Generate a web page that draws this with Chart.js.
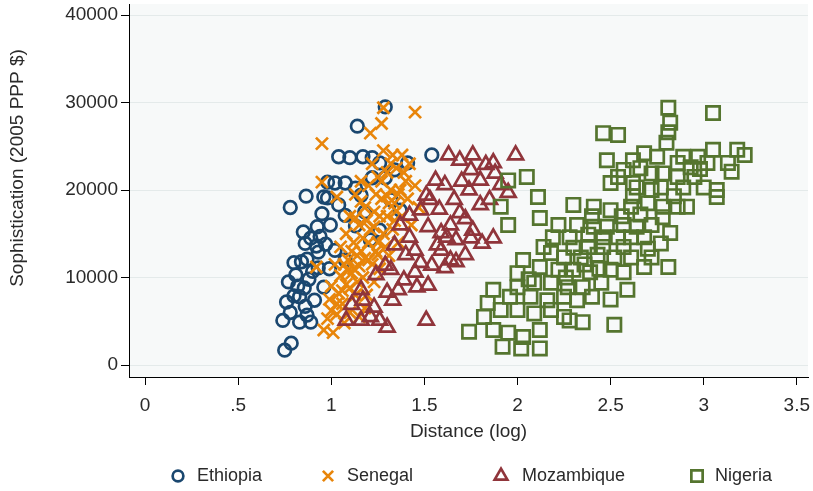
<!DOCTYPE html>
<html>
<head>
<meta charset="utf-8">
<script src="https://cdn.jsdelivr.net/npm/chart.js@4"></script>
<style>
  html, body { margin: 0; padding: 0; background: #fff; }
  #wrap { width: 813px; height: 491px; }
</style>
</head>
<body>
<div id="wrap"><canvas id="chart" width="813" height="491"></canvas></div>
<script>
"use strict";

// ---------------- DATA ----------------
const seriesNames = ["Ethiopia", "Senegal", "Mozambique", "Nigeria"];
const xTicks = [0, 0.5, 1, 1.5, 2, 2.5, 3, 3.5];
const xTickLabels = ["0", ".5", "1", "1.5", "2", "2.5", "3", "3.5"];
const yTicks = [0, 10000, 20000, 30000, 40000];

// [distance (log), sophistication]
const ethiopia = [
  [0.75,1700],[0.785,2500],[0.74,5100],[0.78,6000],[0.76,7200],[0.80,7900],[0.77,9500],
  [0.81,10300],[0.80,11700],[0.84,11800],[0.78,18000],[0.865,19300],[0.87,12100],[0.86,13900],
  [0.89,14500],[0.925,15800],[0.94,14700],[0.95,17300],[0.98,19100],[1.02,20800],[1.075,20800],
  [1.13,20200],[1.14,27300],[1.29,29500],[1.04,23800],[1.10,23700],[1.17,23800],[1.22,23700],
  [1.26,23100],[1.54,24000],[1.41,23100],[0.96,8900],[0.91,7400],[0.87,5700],[0.83,4900],
  [0.89,4900],[0.83,7800],[0.855,8800],[0.90,10700],[0.93,12900],[0.97,13800],[0.995,16000],
  [1.04,18300],[1.075,17100],[1.16,19400],[1.22,21400],[1.29,21400],[1.34,22300],[1.18,17500],
  [1.13,15900],[1.075,12000],[1.02,13100],[1.21,14300],[1.26,15400],[1.32,18900],[1.37,17700],
  [0.93,11100],[0.85,15200],[0.96,19200],[0.98,20900],[0.82,9000],[0.88,9800],[0.92,13600],
  [0.86,6700],[0.99,11000]
];
const senegal = [
  [0.92,11200],[0.95,25300],[0.95,20900],[1.03,19200],[0.96,4000],[0.98,5300],[0.99,7500],
  [1.0,9000],[1.0,6200],[1.01,3700],[1.02,11500],[1.03,5800],[1.04,8200],[1.05,10200],
  [1.05,13500],[1.06,7000],[1.07,4800],[1.08,9200],[1.08,15000],[1.09,12000],[1.1,6000],
  [1.1,17000],[1.11,10500],[1.12,14000],[1.13,8000],[1.13,19500],[1.14,12500],[1.15,16000],
  [1.15,5500],[1.16,21000],[1.17,10000],[1.17,14500],[1.18,18000],[1.18,6500],[1.19,8000],
  [1.2,12000],[1.2,20500],[1.21,15500],[1.21,26500],[1.22,23000],[1.23,9500],[1.23,17500],
  [1.24,13000],[1.25,21500],[1.26,11000],[1.27,27600],[1.27,19000],[1.28,15000],[1.28,24500],
  [1.28,29400],[1.3,22000],[1.3,17000],[1.31,12500],[1.32,20000],[1.33,24000],[1.33,15500],
  [1.34,18500],[1.35,22500],[1.36,14000],[1.37,20000],[1.38,17000],[1.38,24000],[1.4,21000],
  [1.41,19000],[1.42,23000],[1.43,16000],[1.45,28900],[1.45,20500],[1.47,18000],
  [1.12,11000],[1.14,9500],[1.16,13000],[1.19,16500],[1.22,11500],[1.24,19500],[1.25,14000],
  [1.26,17000],[1.29,13500],[1.31,18500],[1.32,23000],[1.34,16500],[1.36,19500],[1.39,22000],
  [1.06,8500],[1.09,10800],[1.11,13000],[1.13,16800],[1.16,18700],[1.2,14000],[1.03,7000],
  [1.07,11500],[1.18,12200],[1.23,15800],[1.27,21000],[1.3,19300],[1.35,17600],[1.15,11300],
  [1.1,8800],[1.25,12600]
];
const mozambique = [
  [1.63,24000],[1.76,24000],[1.87,23100],[1.99,24000],[1.75,22300],[1.88,21900],[1.61,20600],
  [1.74,20000],[1.80,21100],[1.95,19700],[1.66,18900],[1.80,18300],[1.69,17400],[1.64,16000],
  [1.76,15400],[1.67,14300],[1.75,14500],[1.81,13900],[1.87,14500],[1.64,12000],[1.52,15800],
  [1.59,15100],[1.57,13700],[1.48,11700],[1.42,14600],[1.39,9700],[1.46,8900],[1.52,9100],
  [1.30,8300],[1.23,6600],[1.33,7400],[1.17,7400],[1.16,5100],[1.21,5500],[1.26,5100],
  [1.30,4300],[1.51,5100],[1.08,5100],[1.11,6900],[1.36,8600],[1.45,10600],[1.54,11400],
  [1.61,11100],[1.67,11800],[1.53,18900],[1.48,17700],[1.42,17100],[1.37,16000],[1.34,13700],
  [1.40,12600],[1.29,11400],[1.24,10300],[1.56,21100],[1.51,19400],[1.69,23400],[1.83,22900],
  [1.91,20600],[1.85,18900],[1.72,12600],[1.59,13100],[1.45,13100],[1.32,10900],[1.16,8600],
  [1.70,21000],[1.58,17800],[1.72,16700],[1.62,14600]
];
const nigeria = [
  [2.81,29400],[3.05,28800],[2.82,27700],[2.46,26500],[2.54,26300],[2.81,26600],[2.80,25400],
  [3.22,24000],[3.18,24600],[3.05,24600],[3.13,23100],[3.15,22100],[2.48,23400],[2.62,23400],
  [2.68,24200],[2.75,23800],[2.89,23800],[2.97,23800],[2.86,23100],[3.02,23100],[2.54,21500],
  [2.72,21900],[2.78,21900],[2.95,21500],[2.86,21500],[2.50,20800],[2.62,20800],[3.00,20300],
  [3.07,20000],[3.07,19200],[2.77,20300],[2.89,20300],[1.95,21100],[2.05,21500],[2.11,19200],
  [1.91,18100],[1.95,16000],[2.30,18300],[2.41,18100],[2.50,17700],[2.61,18100],[2.70,18500],
  [2.78,18100],[2.86,18100],[2.91,18100],[2.12,16800],[2.22,16000],[2.32,16000],[2.41,15800],
  [2.48,15800],[2.57,16000],[2.64,15800],[2.72,16000],[2.78,16900],[2.82,15100],[2.19,14600],
  [2.28,14600],[2.38,14900],[2.46,14600],[2.54,14600],[2.61,14600],[2.68,14600],[2.77,13900],
  [2.38,13500],[2.46,13500],[2.57,13500],[2.18,12800],[2.25,12300],[2.34,12300],[2.43,12600],
  [2.52,12300],[2.61,12300],[2.72,12300],[2.81,11200],[2.68,11200],[2.03,12000],[2.12,11200],
  [2.22,10900],[2.30,10900],[2.39,10600],[2.50,10900],[2.57,10600],[2.00,10500],[2.00,8900],
  [2.09,9400],[2.18,9400],[2.27,8900],[2.35,8900],[2.45,9400],[2.59,8600],[1.87,8600],
  [1.96,7800],[2.07,7800],[2.16,7400],[2.25,7800],[2.32,7400],[1.82,5500],[1.91,6300],
  [2.00,6300],[2.09,5900],[2.18,6300],[2.25,5500],[2.35,4900],[2.52,4600],[1.74,3800],
  [1.87,4000],[1.95,3700],[2.03,3200],[2.12,4000],[1.92,2100],[2.02,1900],[2.12,1900],
  [2.28,5100],[1.84,7100],[2.72,20000],[2.64,20300],
  [2.40,17000],[2.56,17000],[2.66,17200],[2.36,11500],[2.44,11000],[2.62,19300],[2.93,22600],
  [2.57,22300],[2.70,13300],[2.14,13500],[2.06,9800],[2.26,10000],[2.40,7800],[2.50,7500],
  [2.84,19300],[2.98,22400],[2.66,22500],[2.30,13400]
];

// ---------------- STYLE ----------------
const colors = ["#1a476f", "#e8850a", "#90353b", "#55752f"];
const styles = ["circle", "crossRot", "triangle", "rect"];
const radii = [6.3, 8.5, 8.6, 9.4];
const BORDER = 2.7;
const FONT = "'Liberation Sans', Arial, sans-serif";
const TEXT = "#2a2a2a";

// legend placement (marker centre, text start)
const legendMarkX = [178, 328, 501, 697];
const legendTextX = [197, 347, 522, 715];
const LEGEND_Y = 476;

const toPoints = (rows) => rows.map(([x, y]) => ({ x, y }));

const decor = {
  id: "decor",
  beforeDraw(chart) {
    const { ctx, chartArea: a } = chart;
    ctx.save();
    ctx.fillStyle = "#f7f9f9";
    ctx.fillRect(a.left, a.top, a.right - a.left, a.bottom - a.top);
    ctx.restore();
  },
  afterDraw(chart) {
    const ctx = chart.ctx;
    // y axis title
    ctx.save();
    ctx.translate(18, 168);
    ctx.rotate(-Math.PI / 2);
    ctx.font = "19px " + FONT;
    ctx.fillStyle = TEXT;
    ctx.textAlign = "center";
    ctx.textBaseline = "middle";
    ctx.fillText("Sophistication (2005 PPP $)", 0, 0);
    ctx.restore();

    // legend
    ctx.save();
    ctx.font = "18px " + FONT;
    ctx.textAlign = "left";
    ctx.textBaseline = "middle";
    seriesNames.forEach((name, i) => {
      ctx.strokeStyle = colors[i];
      ctx.fillStyle = "rgba(0,0,0,0)";
      ctx.lineWidth = BORDER;
      Chart.helpers.drawPoint(ctx, { pointStyle: styles[i], radius: radii[i] * 0.85, borderWidth: BORDER },
        legendMarkX[i], LEGEND_Y);
      ctx.fillStyle = TEXT;
      ctx.fillText(name, legendTextX[i], LEGEND_Y);
    });
    ctx.restore();
  },
};

const data = [ethiopia, senegal, mozambique, nigeria];

new Chart(document.getElementById("chart"), {
  type: "scatter",
  data: {
    datasets: data.map((rows, i) => ({
      label: seriesNames[i],
      data: toPoints(rows),
      pointStyle: styles[i],
      pointRadius: radii[i],
      pointHoverRadius: radii[i],
      borderColor: colors[i],
      backgroundColor: "rgba(0,0,0,0)",
      pointBorderWidth: BORDER,
      order: 4 - i,
    })),
  },
  options: {
    responsive: false,
    animation: false,
    layout: { autoPadding: false, padding: { top: 4, right: 5, left: 0, bottom: 48 } },
    plugins: {
      tooltip: { enabled: false },
      legend: { display: false },
    },
    scales: {
      x: {
        type: "linear",
        min: -0.086,
        max: 3.56,
        afterBuildTicks: (s) => { s.ticks = xTicks.map((v) => ({ value: v })); },
        afterFit: (s) => { s.height = 66; s.paddingLeft = 0; s.paddingRight = 0; },
        ticks: {
          color: TEXT,
          font: { family: FONT, size: 19 },
          padding: 9,
          callback: (v) => xTickLabels[xTicks.indexOf(v)],
        },
        grid: { drawOnChartArea: false, drawTicks: true, tickLength: 8, tickColor: "#000" },
        border: { display: true, color: "#000", width: 1 },
        title: {
          display: true,
          text: "Distance (log)",
          color: TEXT,
          font: { family: FONT, size: 19 },
          padding: { top: 0, bottom: 0 },
        },
      },
      y: {
        type: "linear",
        min: -1370,
        max: 41260,
        afterBuildTicks: (s) => { s.ticks = yTicks.map((v) => ({ value: v })); },
        afterFit: (s) => { s.width = 129; s.paddingTop = 0; s.paddingBottom = 0; },
        ticks: {
          color: TEXT,
          font: { family: FONT, size: 19 },
          padding: 3,
          callback: (v) => String(v),
        },
        grid: { color: "#e4eaea", lineWidth: 1, tickLength: 8, tickColor: "#000" },
        border: { display: true, color: "#000", width: 1 },
      },
    },
  },
  plugins: [decor],
});
</script>
</body>
</html>
